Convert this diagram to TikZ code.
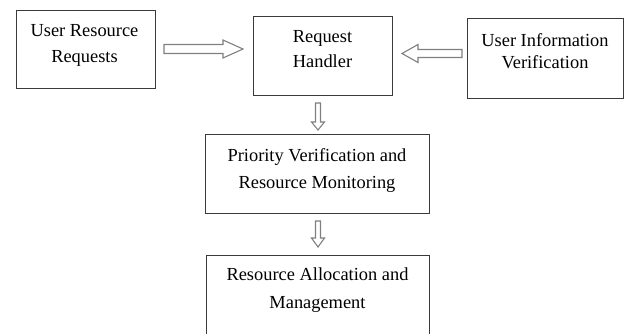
\documentclass[tikz,border=0pt]{standalone}
\usepackage{fontspec}
\setmainfont{Liberation Serif}
\usetikzlibrary{calc}

\definecolor{boxline}{HTML}{3A3A3A}
\definecolor{arrowline}{HTML}{808080}

\tikzset{
  stagebox/.style={draw=boxline, line width=1pt, anchor=north west, inner sep=0pt},
  stagetext/.style={anchor=base, align=center, inner sep=0pt, text=black},
  hollowarrow/.style={draw=arrowline, line width=1.1pt, fill=white, line join=miter},
}

% hollow block arrow: #1 tail, #2 tip, #3 shaft half width, #4 head half width, #5 head length
\newcommand\blockarrow[5]{%
  \coordinate (ba-b) at ($(#2)!#5!(#1)$);
  \draw[hollowarrow]
    ($(#1)!#3!90:(#2)$) -- ($(ba-b)!#3!90:(#2)$) -- ($(ba-b)!#4!90:(#2)$)
    -- (#2)
    -- ($(ba-b)!#4!-90:(#2)$) -- ($(ba-b)!#3!-90:(#2)$) -- ($(#1)!#3!-90:(#2)$) -- cycle;
}

\begin{document}
\begin{tikzpicture}[x=1pt, y=-1pt]
  \useasboundingbox (0,0) rectangle (625,333);

  % boxes
  \node[stagebox, minimum width=139pt, minimum height=78pt] (req)  at (16,10)  {};
  \node[stagebox, minimum width=139pt, minimum height=79pt] (hand) at (253,16) {};
  \node[stagebox, minimum width=156pt, minimum height=80pt] (info) at (467,18) {};
  \node[stagebox, minimum width=224pt, minimum height=79pt] (prio) at (205,134) {};
  \node[stagebox, minimum width=223pt, minimum height=100pt] (alloc) at (206,255) {};

  % labels (anchored at the baseline of the last line)
  \node[stagetext, font=\fontsize{18.4}{26}\selectfont] (reqt) at (84.5,62) {User Resource\\Requests};
  \node[stagetext, font=\fontsize{18.4}{25}\selectfont] (handt) at (322.5,67) {Request\\Handler};
  \node[stagetext, font=\fontsize{18.4}{22}\selectfont] (infot) at (545,68) {User Information\\Verification};
  \node[stagetext, font=\fontsize{18.4}{27}\selectfont] (priot) at (317,188) {Priority Verification and\\Resource Monitoring};
  \node[stagetext, font=\fontsize{18.4}{28}\selectfont] (alloct) at (317.5,308) {Resource Allocation and\\Management};

  % connectors
  \coordinate (a1s) at ($(req.east)+(8,-0.5)$);
  \coordinate (a1e) at ($(hand.west |- a1s)+(-10,0)$);
  \blockarrow{a1s}{a1e}{4.5pt}{9pt}{20pt}

  \coordinate (a2s) at ($(info.west)+(-5,-5)$);
  \coordinate (a2e) at ($(hand.east |- a2s)+(9,0)$);
  \blockarrow{a2s}{a2e}{4pt}{9pt}{16pt}

  \coordinate (a3s) at ($(prio.north |- hand.south)+(0.5,7)$);
  \coordinate (a3e) at ($(prio.north)+(0.5,-4)$);
  \blockarrow{a3s}{a3e}{2.5pt}{6.5pt}{8pt}

  \coordinate (a4s) at ($(prio.south)+(0.5,7)$);
  \coordinate (a4e) at ($(alloc.north)+(0,-8)$);
  \blockarrow{a4s}{a4e}{2.5pt}{6.5pt}{9pt}
\end{tikzpicture}
\end{document}
